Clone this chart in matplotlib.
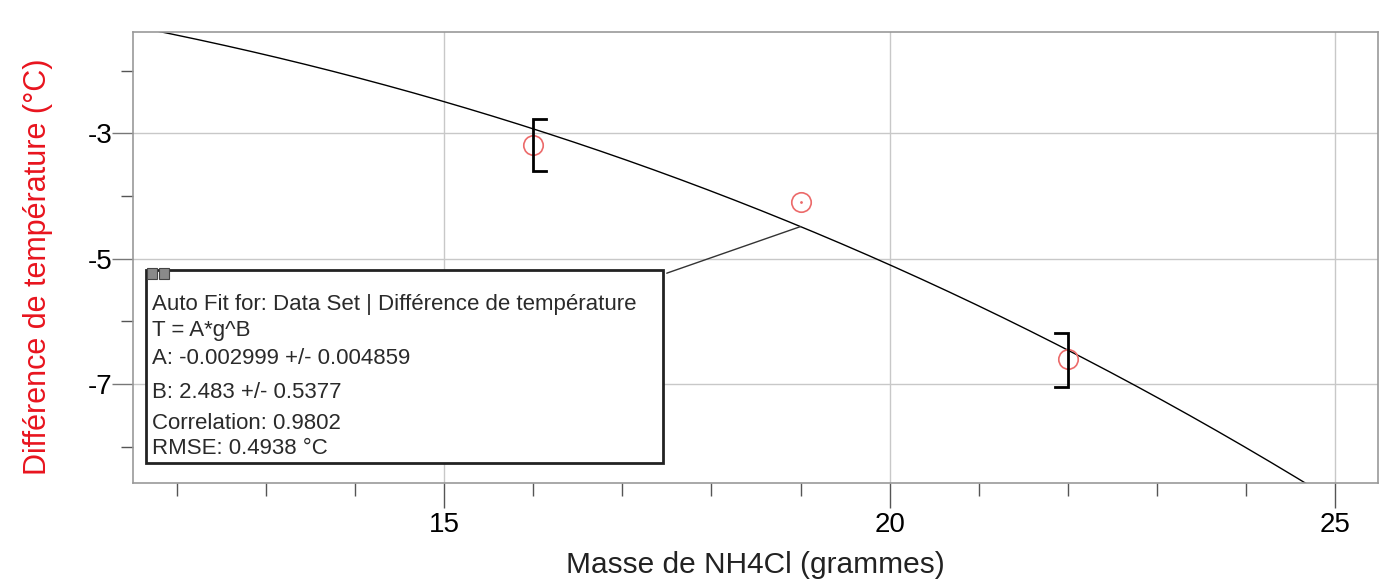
import numpy as np
import matplotlib
matplotlib.use("Agg")
import matplotlib.pyplot as plt
from matplotlib.patches import Rectangle

plt.rcParams["font.family"] = ["Liberation Sans", "DejaVu Sans"]
plt.rcParams["axes.unicode_minus"] = False

# measured data (masse en g, difference de temperature en degC)
masse = [16, 19, 22]
delta_t = [-3.19, -4.10, -6.60]

# fit range brackets drawn by the software
bracket_x = [16, 22]
bracket_low = [-3.60, -7.04]
bracket_high = [-2.78, -6.19]

# power fit T = A*g^B
A = -0.002999
B = 2.483

fit_lines = [
    "Auto Fit for: Data Set | Différence de température",
    "T = A*g^B",
    "A: -0.002999 +/- 0.004859",
    "B: 2.483 +/- 0.5377",
    "Correlation: 0.9802",
    "RMSE: 0.4938 °C",
]

x_major = [15, 20, 25]
x_minor = [12, 13, 14, 16, 17, 18, 19, 21, 22, 23, 24]
y_major = [-3, -5, -7]
y_minor = [-2, -4, -6, -8]

fig = plt.figure(figsize=(13.85, 5.82), dpi=100)
ax = fig.add_axes([0.096, 0.170, 0.899, 0.775])
ax.set_xlim(11.51, 25.48)
ax.set_ylim(-8.58, -1.385)

ax.set_xticks(x_major)
ax.set_xticks(x_minor, minor=True)
ax.set_yticks(y_major)
ax.set_yticks(y_minor, minor=True)
ax.grid(True, which="major", color="#c8c8c8", lw=1)
ax.tick_params(axis="x", which="major", length=18, width=1, color="#555555", labelsize=20, pad=3)
ax.tick_params(axis="x", which="minor", length=9, width=1, color="#555555")
ax.tick_params(axis="y", which="major", length=15, width=1, color="#777777", labelsize=20, pad=0)
ax.tick_params(axis="y", which="minor", length=9, width=1, color="#555555")
for s in ax.spines.values():
    s.set_color("#999999")
    s.set_linewidth(1.2)

ax.set_xlabel("Masse de NH4Cl (grammes)", fontsize=21.5, color="#222222")
ax.xaxis.set_label_coords(0.5, -0.151)
ax.set_ylabel("Différence de température (°C)", fontsize=22, color="#e8141e")
ax.yaxis.set_label_coords(-0.064, 0.479)

# fit curve
g = np.linspace(11.0, 26.0, 400)
ax.plot(g, A * g ** B, color="black", lw=1)

# data points
ax.plot(masse, delta_t, "o", ms=14, mfc="none", mec="#ec6a6a", mew=1.2)
ax.plot(masse[1], delta_t[1], ".", ms=2, color="#ec6a6a")

# fit range brackets
cap = 0.14
for i, (bx, lo, hi) in enumerate(zip(bracket_x, bracket_low, bracket_high)):
    d = cap if i == 0 else -cap
    ax.plot([bx + d, bx, bx, bx + d], [hi, hi, lo, lo], color="black", lw=2,
            solid_joinstyle="miter")

# fit info box
bx0, by0, bw, bh = 0.0104, 0.0443, 0.4153, 0.428
ax.add_patch(Rectangle((bx0, by0), bw, bh, transform=ax.transAxes,
                       facecolor="white", edgecolor="#222222", lw=2, zorder=5))
for k in range(2):
    ax.add_patch(Rectangle((bx0 + 0.001 + k * 0.0095, by0 + bh - 0.02), 0.008, 0.024,
                           transform=ax.transAxes, facecolor="#8a8a8a",
                           edgecolor="#444444", lw=0.8, zorder=6))
line_y = [0.3956, 0.3379, 0.2758, 0.2004, 0.1317, 0.0763]
for txt, ty in zip(fit_lines, line_y):
    ax.text(bx0 + 0.005, ty, txt, transform=ax.transAxes, fontsize=16,
            color="#2a2a2a", va="center", ha="left", zorder=7)

# leader from box to curve
ax.annotate("", xy=(19, A * 19 ** B), xycoords="data",
            xytext=(bx0 + bw + 0.003, by0 + bh - 0.007), textcoords="axes fraction",
            arrowprops=dict(arrowstyle="-", lw=1, color="#333333", shrinkA=0, shrinkB=0),
            zorder=4)

fig.savefig("out.png", dpi=100, facecolor="white")
